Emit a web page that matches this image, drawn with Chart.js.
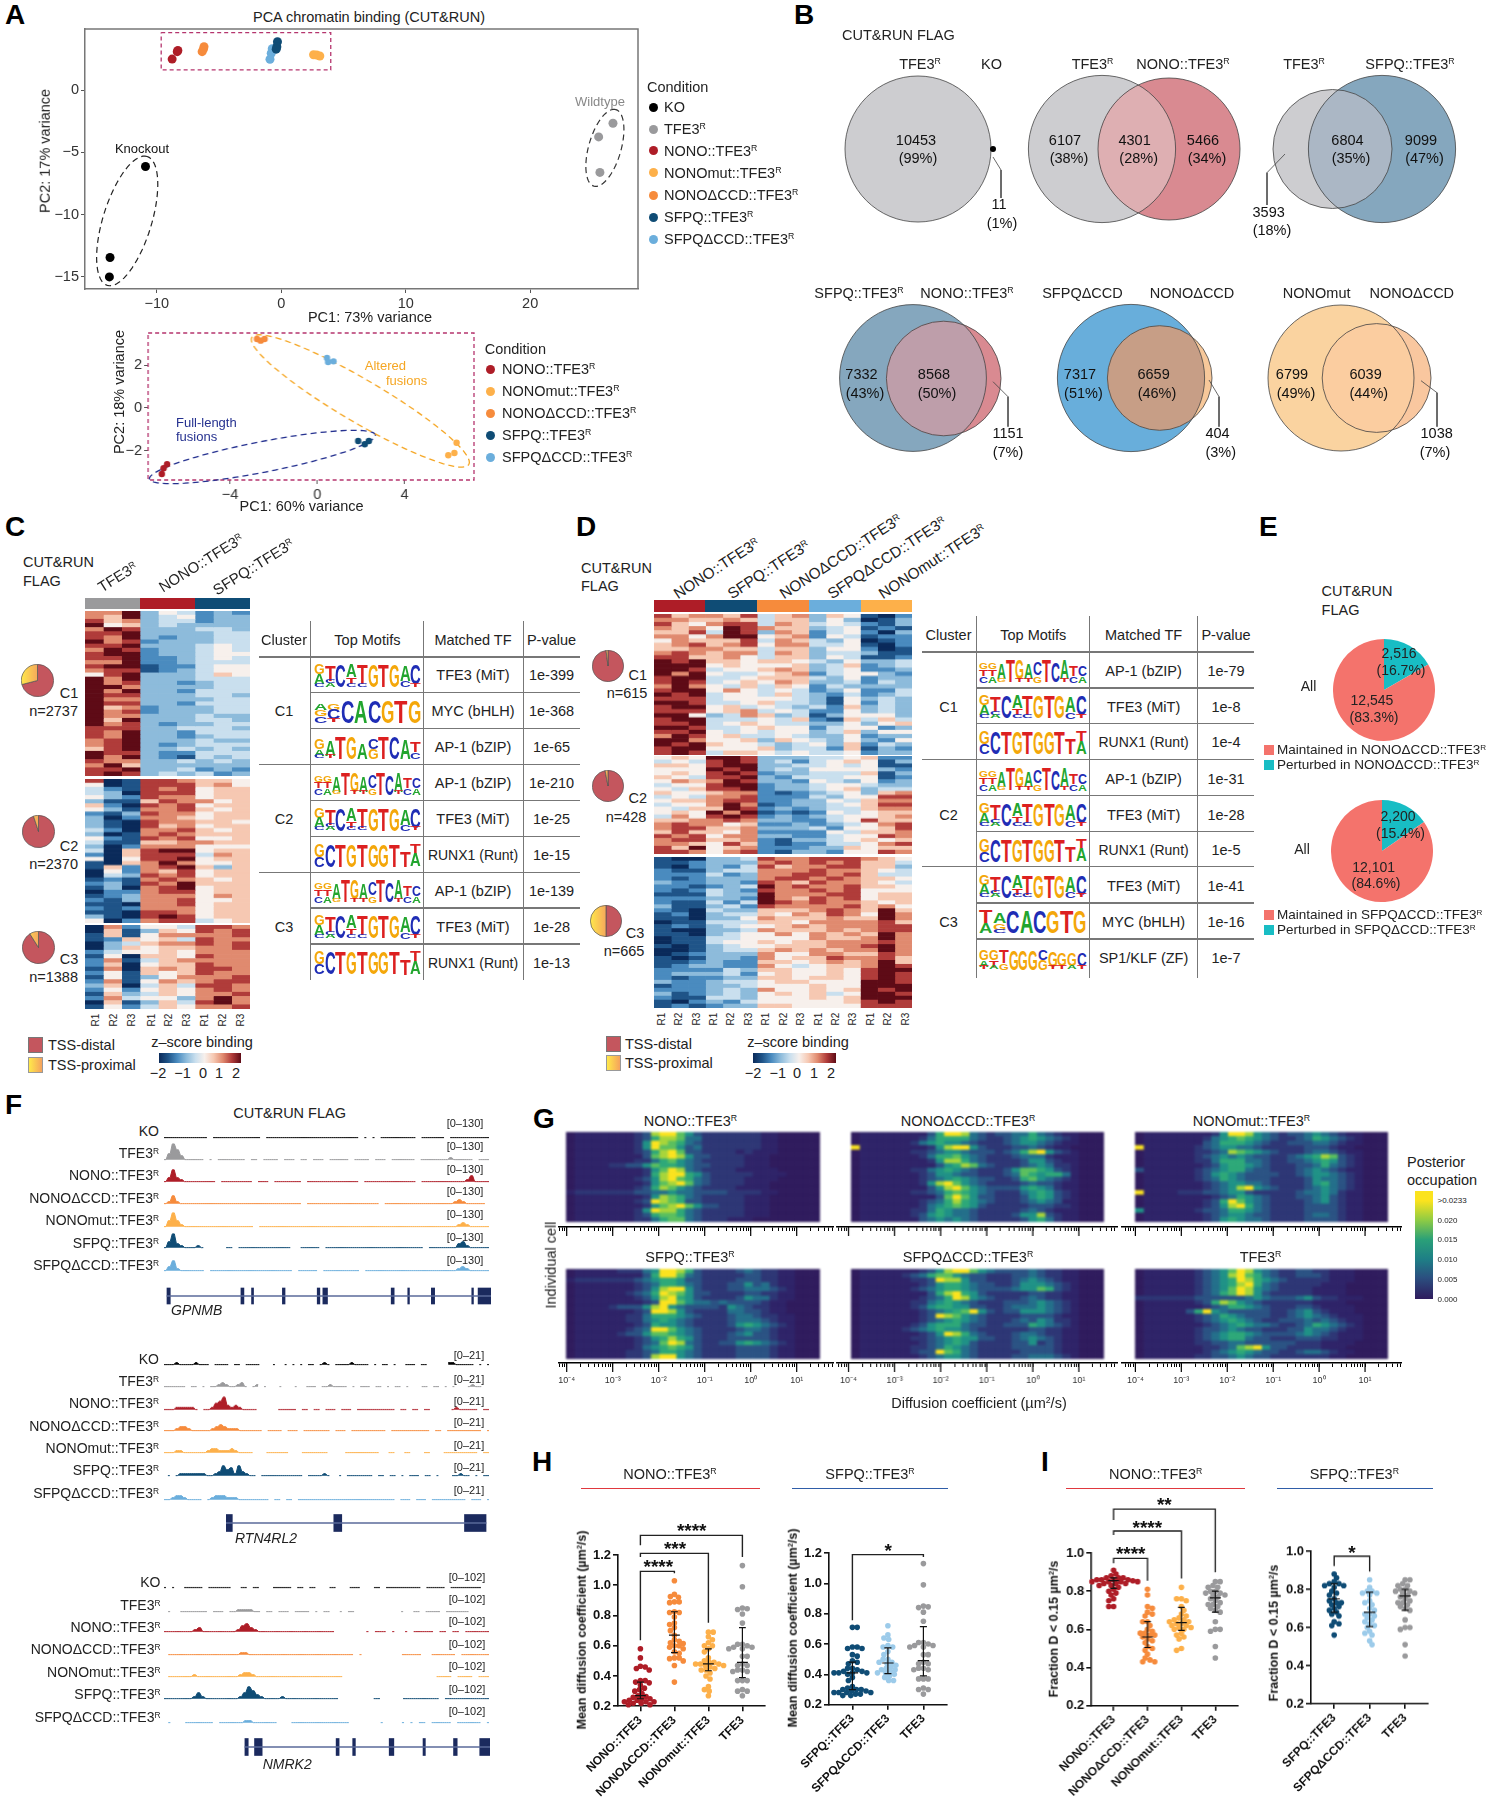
<!doctype html><html><head><meta charset="utf-8"><title>CUT&RUN figure</title>
<script src="https://cdn.jsdelivr.net/npm/chart.js@4"></script>
<style>
html,body{margin:0;background:#fff}
#f{position:relative;width:1490px;height:1800px;overflow:hidden;font-family:"Liberation Sans",Arial,sans-serif;color:#222}
#f canvas{position:absolute}
.t{position:absolute;white-space:nowrap;line-height:1}
sup{font-size:.6em;vertical-align:.5em;line-height:0}
</style></head><body><div id="f"></div>
<script>
/* ---------- DATA ---------- */
const conditions=['KO','TFE3R','NONO::TFE3R','NONOmut::TFE3R','NONOΔCCD::TFE3R','SFPQ::TFE3R','SFPQΔCCD::TFE3R'];
const pcaX={KO:[-10.9,-13.75,-13.8],TFE3:[26.65,25.5,25.6],NONO:[-8.35,-8.3,-8.76],MUT:[2.85,3.1,2.6],DCCD:[-6.35,-6.2,-6.25],SFPQ:[-0.3,-0.35,-0.4],SDCCD:[-0.72,-0.8,-0.9]};
const pcaY={KO:[-6.13,-13.44,-15],TFE3:[-2.65,-3.75,-6.6],NONO:[3.1,3.2,2.5],MUT:[2.83,2.75,2.85],DCCD:[3.1,3.5,3.3],SFPQ:[3.9,3.5,3.3],SDCCD:[3.34,2.97,2.49]};
const pca2X={NONO:[-6.89,-7.05,-7.13],DCCD:[-2.77,-2.6,-2.42],SDCCD:[.44,.49,.74],SFPQ:[1.87,2.17,2.36],MUT:[6.38,6.28,6]};
const pca2Y={NONO:[-2.64,-2.83,-3.1],DCCD:[3.24,3.16,3.24],SDCCD:[2.35,2.16,2.19],SFPQ:[-1.55,-1.7,-1.55],MUT:[-1.63,-2.11,-2.22]};
const pcaTicksX=[-10,0,10,20],pcaTicksY=[0,-5,-10,-15],pca2TicksX=[-4,0,4],pca2TicksY=[2,0,-2];
const vennValues=[['10453','(99%)'],['11','(1%)'],['6107','(38%)'],['4301','(28%)'],['5466','(34%)'],['6804','(35%)'],['9099','(47%)'],['3593','(18%)'],['7332','(43%)'],['8568','(50%)'],['1151','(7%)'],['7317','(51%)'],['6659','(46%)'],['404','(3%)'],['6799','(49%)'],['6039','(44%)'],['1038','(7%)']];
const heatC1=["779354232","769345233","867344233","956343333","798333443","889333344","879323344","978233344","889333454","798233454","899233455","889223454","779223444","899122455","788123455","589333465","979333444","978332344","997333344","979332444","988333443","977333344","988332444","967233344","978233344","977333433","969333443","978323344","888334443","879332444","879332344","789333433","789323444","689334343","988322444","979321434","877334343","796333333","889334232","898343423"];
const heatC2=["801887665","501888675","421878566","430888566","532877566","311687756","620878566","531778656","213877566","302776566","310877665","310867566","420778656","301787666","521878556","411667766","302777555","406899566","206888476","505889566","106797556","162789636","052768566","043878566","121787656","231879666","130789566","022788566","123777576","213778556","110778566","212777566","110887566","310898566","502788456"];
const heatC3=["072554887","061365878","161577778","126564877","034677878","036566778","245565777","150665877","271467777","260566877","170676887","251656877","151357778","271576788","360464887","252565787","163465778","274553797","061364897","152465778"];
const heatD1=["867768467365102","776676466353013","865788476454213","767598766345121","668498376245203","775799567254122","576668476435012","678678577445102","667766466355201","787677476344311","886675466354112","989665665435334","999565556346234","998455676345223","979544567245532","899445666435233","898456576334243","797546465243333","899575454235224","989455464324234","888455554315343","998445644315243","899564543426343","888567454225343","995347634135553","899444546216464","889456544335356","998445655245523","889545455346355","798564454335233","997556365435325","989655434536243","899555634426132","898466545445233"];
const heatD2=["565998333445622","454898342456513","665899334454511","555989343555532","565898233444613","654889324445512","576798332543523","455899233455433","546889233456344","655677212345367","454778222435588","566788223354677","455797123345688","546698232344677","565979121254566","475898232345567","667787332245866","787756223234578","788667333425568","686657222254667","878577332245587","788667213345656","776586212244578","869567222336566","887578213325587"];
const heatD3=["100334877888765","112333787878664","102324867788663","211344777877654","222423778878644","212333788787665","322332876877654","221234978778665","212432877878555","111433977788566","222332976878566","211424987877656","311342877778675","210433666787696","120344657687597","110335766676697","011444665777786","121345567677788","100334766676788","110345575767697","011445555766797","011455656677787","101345566677897","001344676767797","012333755776687","101332756687786","112322665676796","123322754566798","222243665565899","233342565565898","212233665665898","322344566555998","122334555655999","222343755656989","312343565645998","211443555656999","102324555556898","121233665555888"];
const motifs={TFE3:["G3A3C1","T5C1A1","C7","A4T2C1","T6C1","G7","T7","G7","A5C2","C6T1"],MYC:["A2G2C2","G2C3T1","C7","A7","C7","G7","T7","G7"],MYC2:["T4A3","A3G2C1","C7","A7","C7","G7","T7","G7"],AP1a:["G3A2C1","A5T1","T7","G7","A5","C3G3","T7","C7","A6","T3C2"],AP1b:["G2T2C2","G2T2A2","A5G1","T7","G6T1","A5T1","C4G2","T7","C6","A6T1","T3C2","C3A2"],RUNX:["G4C3","C7","T7","G7","T7","G7","G7","T7","T5","T3A4"],SP1:["G3A2T1","G3T2A1","T4G2","G6","G6","G6","C3G3","G5T1","G4T1","G4A1","C4T1"]};
const tableC=[['TFE3','TFE3 (MiT)','1e-399'],['MYC','MYC (bHLH)','1e-368'],['AP1a','AP-1 (bZIP)','1e-65'],['AP1b','AP-1 (bZIP)','1e-210'],['TFE3','TFE3 (MiT)','1e-25'],['RUNX','RUNX1 (Runt)','1e-15'],['AP1b','AP-1 (bZIP)','1e-139'],['TFE3','TFE3 (MiT)','1e-28'],['RUNX','RUNX1 (Runt)','1e-13']];
const tableD=[['AP1b','AP-1 (bZIP)','1e-79'],['TFE3','TFE3 (MiT)','1e-8'],['RUNX','RUNX1 (Runt)','1e-4'],['AP1b','AP-1 (bZIP)','1e-31'],['TFE3','TFE3 (MiT)','1e-28'],['RUNX','RUNX1 (Runt)','1e-5'],['TFE3','TFE3 (MiT)','1e-41'],['MYC2','MYC (bHLH)','1e-16'],['SP1','SP1/KLF (ZF)','1e-7']];
const pieC=[[71,29],[95,5],[91,9]],pieD=[[98,2],[97,3],[50,50]],pieE1=[2516,12545],pieE2=[2200,12101];
const trackNames=['KO','TFE3R','NONO::TFE3R','NONOΔCCD::TFE3R','NONOmut::TFE3R','SFPQ::TFE3R','SFPQΔCCD::TFE3R'];
const tracksGPNMB=["00000000000.000000000000.00000000000000000000000.0.0.000000000.000000.0000000000","0385200000.0.0000000.00.0000.000.00.000.00000.0000.000.000000.0000000100000.000","0262100000000.00000000.000.0000000.0000000000000.0000000000000.00000000000130000","0141000000000000000000000000000000.000000000000000000.0000000000000000012100000.","0373100000000000000000.00000000000000000000000000000000000000000000000012100000","0372100010.....00.0000000000000..00000.000000000000000000000000.000000023100000","0251000000.00000000000000000000.00000.000000000.000000000000000000000012100000"];
const tracksRTN=["000100001000.0000.00.0000...0..0.0.0.00.010.000010000.0.00.0..000.00.....1100000.0.0","000000.00.0.0012100120.01.0...0...0..000.0010000.0.000.00.0.00.0...00.00.0.0...0100..","000111110.00134621210000.....00000.00.00.000.000.0000000000.00.00.00.....0100000.00","0001221000001232111000000.0000.000.0000000.000.000000000.0000000000.00.000000000.0","00011000000122111210000...000000...0000000....000000000..00..00...00...000000000.00",".0.011111110012534152100.00000000000.000010..0.0000000.00.00.0.000.00.0...00100.0.00","0012210000.0122211100000000.00.00.0000000000000000000000000.000.000.000000000.000.0"];
const tracksNMRK=["0.0..00000.000000..00.00...00000.00.00...00...000...00.000000000.00000.00000000..",".0..0000000.000.00111100.00.000.0000.0.00..0.00...........0..00.0000.000000.....","0000000120000000013421000000000000000000.......0.000.0..0.00000.00.00.000000",".00000000000000000110000000000000000000000000.0.........00000..000000.0000000",".000000100000000001221000000000000000000000......................0000.0000.000","000000013100000000136421000010000000000000........00.....000000000.00000000000",".0...0000000.00000011000000...00000000000000.......0....0.0.00.00000.000000.0"];
const exonsGPNMB=[[503,513],[726,735],[758,764],[851,859],[956,964],[973,987],[1179,1188],[1229,1234],[1300,1310],[1422,1427],[1441,1479]];
const exonsRTN=[[682,700],[1006,1030],[1400,1465]];
const exonsNMRK=[[738,748],[767,790],[1013,1022],[1063,1071],[1173,1187],[1275,1282],[1367,1378],[1446,1476]];
const dwellNONO=["011111112389975322222221100000","011111112368874422222221100000","011111112598764322222221100000","011111112597753422222221100000","011111112368973322221211100000","011111111378985332222111000000","011111112246754322222111000000","011112233576654332222111000000","011111111257984322221111100000","011111111268996532222211110000","011111112358976432222111100000","011111111257897432222111000000","011111112368754322221111000000","122222223344544333322221100000","011111111258764322222111000000","011111112398763322222111000000","011111111257897533222111000000","011111112598864322222111000000","011111112367764322222111000000","011111112246774322211100000000"];
const dwellDCCD=["011111111369984323344643211000","011111112466664322345654321000","011111124565543222345543211000","911111111258995322233432110000","011111122345543332346895321000","011111112466754322234442111000","011111111258864322223553211000","011111111135687432223454221000","011111122456543222357765321000","011111112355433222347656641000","011111112345654332236754321000","011111112589754322223433211000","011111111358975433335654211000","011111122346765432224565321000","011111111137975332223565321000","011111112346865432223454311000","011111112456765322222333221000","011111122465443222223432111000","011111123565443222235583211000","011111113454543222223564211000"];
const dwellMUT=["011111111259985432334543211000","011111112456765432234654321000","011111113466654322333443211000","911111123455443222223332110000","011111122348765432223443211000","011111123454543322345687321000","011111122466644322334565321000","011111112356654322233464321000","311111123456643322234543211000","011111123565433332234554321000","011111123465433322223544321000","011111112345544322223564321000","011111112345895432223454321000","911112223345532222234454211000","011111111234654322233453211000","011111112369754322223453211000","011111112358964322223333211000","511111123346654322223333211000","011111112345543322223443211000","011111112356544322223333211000"];
const dwellSFPQ=["011111222459986322223432211000","011111111369974322222332211000","122222223456653322223332211000","011111112346654322233534211000","011111112358995322233444321000","011111123469875332222332211000","011111112358965322223544211000","011111111239975443433332110000","011112333589543333254322110000","011111112399853222244332110000","011111122466654322234432211000","011111122456543222234443211000","011111112365543222235654321000","011111123499754322223443211000","011111233577654322234533211000","011111112356865322233333211000","011111112347984322335654321000","011111112456765322223333211000","011111122346654322223333211000","011111122389954322223333211000"];
const dwellSDCCD=["011111112358997543333432211000","011111234677543322233432211000","011111122398853322234543211000","011111112356654332235554321000","011111123456654333345576321000","011111111368965322222332211000","011111112346985432223432211000","011111122456543222333454321000","011111123566553322344454321000","011111112345679532335554321000","011111112398754322223333211000","011111112345654322234354221000","011111123566643322333654321000","011111234565543222222332211000","011111112359864322234432211000","011111122345655332234543211000","011111112345653222233523211000","011111122346543222233333211000","011111123397643222223333211000","011111112345543222233444321000"];
const dwellTFE3=["011111123457985432233221110000","011111123458976432233321110000","011111123456986543222221110000","011111123456896432222211100000","011111123457985432222111100000","011111123467985322222111100000","222222233333345433345322111000","011111123687543222222111100000","011111112346654322233211110000","011111369543333322345321110000","011111123465433322345432111000","011111123456543223334343211000","011111112345654432234654321000","011111123345433222335443211000","011111123456654333345432111000","011111123456643322233322111000","011111122334433333322211110000","011111112234789533222211100000","011111112345654332234432110000","011111122334543322222221100000"];
const namesN=['NONO::TFE3','NONOΔCCD::TFE3','NONOmut::TFE3','TFE3'],namesS=['SFPQ::TFE3','SFPQΔCCD::TFE3','TFE3'];
const hNONO=[.58,.52,.465,.46,.45,.44,.37,.37,.36,.355,.34,.32,.31,.3,.285,.27,.265,.26,.25,.25,.24,.24,.23,.23,.23,.22,.22,.21,.21];
const hDCCD=[1.03,.94,.925,.92,.89,.89,.885,.825,.82,.82,.79,.75,.74,.72,.7,.67,.64,.63,.62,.615,.6,.6,.59,.58,.56,.55,.52,.52,.515,.5,.47,.36];
const hMUT=[.69,.69,.66,.64,.62,.6,.6,.58,.56,.52,.5,.49,.49,.48,.48,.48,.47,.47,.46,.45,.44,.44,.42,.4,.38,.33,.31,.3,.27];
const hTFE3=[1.13,.99,.85,.845,.84,.81,.75,.61,.61,.6,.59,.59,.58,.58,.53,.53,.48,.47,.47,.44,.44,.43,.43,.37,.37,.37,.31,.3,.3,.27];
const hSFPQ=[.71,.71,.58,.58,.57,.57,.53,.52,.49,.48,.47,.44,.44,.43,.42,.42,.41,.41,.41,.41,.4,.38,.36,.32,.31,.3,.3,.3,.29,.29,.28,.28,.28,.28,.27,.27,.26,.26];
const hSDCCD=[.72,.66,.64,.63,.59,.58,.58,.55,.53,.5,.5,.48,.48,.47,.46,.45,.44,.43,.43,.42,.41,.41,.4,.39,.38,.36,.36];
const iNONO=[.91,.89,.88,.87,.87,.87,.86,.86,.86,.86,.855,.85,.85,.85,.85,.84,.84,.84,.83,.83,.82,.81,.8,.79,.78,.76,.75,.72,.72];
const iDCCD=[.81,.78,.72,.71,.69,.68,.67,.64,.64,.62,.6,.59,.58,.58,.57,.57,.56,.55,.54,.53,.51,.5,.49,.47,.45,.44,.43,.43];
const iMUT=[.82,.76,.76,.75,.72,.7,.68,.67,.66,.65,.65,.64,.64,.63,.63,.62,.62,.61,.61,.6,.6,.58,.57,.56,.55,.5,.49];
const iTFE3=[.85,.85,.83,.82,.82,.8,.8,.79,.79,.78,.78,.77,.76,.75,.74,.73,.73,.72,.71,.7,.69,.64,.6,.6,.59,.51,.45];
const iSFPQ=[.88,.86,.84,.83,.83,.82,.82,.81,.79,.78,.77,.75,.74,.73,.73,.72,.71,.7,.69,.68,.67,.66,.63,.62,.61,.56];
const iSDCCD=[.85,.81,.79,.79,.78,.78,.77,.74,.73,.72,.7,.69,.67,.67,.66,.65,.64,.63,.62,.61,.6,.58,.57,.56,.53,.51];
const hErr={NL:[[.27,.36,.25],[.67,.825,.555],[.48,.58,.435],[.49,.72,.39]],SL:[[.41,.48,.3],[.475,.575,.405],[.49,.715,.39]]};
const iErr={NL:[[.855,.87,.815],[.56,.64,.505],[.635,.715,.595],[.765,.8,.69]],SL:[[.75,.83,.68],[.68,.785,.605],[.765,.8,.69]]};
const hBrk=[[[0,.637],[0,1.092],[1,1.092],[1,1.08]],[[0,1.187],[0,1.211],[2,1.211],[2,.752]],[[0,1.264],[0,1.33],[3,1.33],[3,1.187]]];
const hBrkS=[[[0,.757],[0,1.189],[2,1.189],[2,1.174]]];
const iBrk=[[[0,.946],[0,.972],[1,.972],[1,.855]],[[0,1.094],[0,1.115],[2,1.115],[2,.867]],[[0,1.173],[0,1.23],[3,1.23],[3,.899]]];
const iBrkS=[[[0,.923],[0,.974],[1,.974],[1,.893]]];

/* ---------- STYLE ---------- */
const K={KO:'#000',TFE3:'#9A9A9C',NONO:'#AE1D27',MUT:'#FDB04A',DCCD:'#F68B3C',SFPQ:'#0F4C75',SDCCD:'#6BAEDC'};
const heatPal=['#0A2A5A','#1F5488','#4A8BBF','#8DBBDB','#C9DFEE','#F7F0EC','#F6C8B2','#E08A6F','#B03C3A','#5E0B16'];
const virPal=['#2F1B5D','#2E2368','#2D3675','#2A5283','#236F8A','#1F9186','#2DA878','#5ABF5E','#A8D53A','#FBE31E'];
const root=document.getElementById('f');
Chart.defaults.font.family='"Liberation Sans",Arial,sans-serif';
Chart.defaults.plugins.legend.display=false;Chart.defaults.plugins.tooltip.enabled=false;
Chart.defaults.animation=false;Chart.defaults.events=[];

/* ---------- HELPERS ---------- */
const fmt=s=>s.replace(/R$/,'<sup>R</sup>');
function t(x,y,s,o={}){const e=document.createElement('div');e.className='t';e.innerHTML=s;const a=o.a||'c';
 e.style.left=x+'px';e.style.top=y+'px';e.style.fontSize=(o.s||14.5)+'px';if(o.w)e.style.fontWeight=o.w;if(o.c)e.style.color=o.c;if(o.i)e.style.fontStyle='italic';
 e.style.transformOrigin=a==='l'?'0 50%':a==='r'?'100% 50%':'50% 50%';
 e.style.transform=`translate(${a==='c'?'-50%':a==='r'?'-100%':'0'},-50%)`+(o.r?` rotate(${o.r}deg)`:'');root.appendChild(e);}
function box(x0,y0,x1,y1,bg,bd){const e=document.createElement('div');e.style.cssText=`position:absolute;left:${x0}px;top:${y0}px;width:${x1-x0}px;height:${y1-y0}px;background:${bg};`+(bd?`box-sizing:border-box;border:${bd}`:'');root.appendChild(e);return e;}
function dot(x,y,r,c){const e=box(x-r,y-r,x+r,y+r,c);e.style.borderRadius='50%';}
function mk(x0,y0,x1,y1,cfg,g={}){const l=g.l||0,r=g.r||0,tp=g.t||0,b=g.b||0;const c=document.createElement('canvas');
 const W=x1-x0+l+r,H=y1-y0+tp+b;c.style.left=(x0-l)+'px';c.style.top=(y0-tp)+'px';c.style.width=W+'px';c.style.height=H+'px';c.width=W;c.height=H;if(g.blur)c.style.filter=`blur(${g.blur}px)`;root.appendChild(c);
 const o=cfg.options=cfg.options||{};o.responsive=false;o.maintainAspectRatio=false;const sc=o.scales||{};
 const xv=sc.x&&sc.x.display!==false,yv=sc.y&&sc.y.display!==false;
 o.layout={autoPadding:false,padding:{left:yv?0:l,top:tp,right:r,bottom:xv?0:b}};
 if(xv)sc.x.afterFit=s=>{s.height=b};if(yv)sc.y.afterFit=s=>{s.width=l};
 return new Chart(c,cfg);}
const pts=(xs,ys)=>xs.map((x,i)=>({x,y:ys[i]}));
const path=a=>a.map(p=>({x:p[0],y:p[1]}));
const ell=(cx,cy,a,b,deg)=>{const r=deg*Math.PI/180,o=[];for(let i=0;i<=72;i++){const u=i/72*2*Math.PI,px=a*Math.cos(u),py=b*Math.sin(u);o.push({x:cx+px*Math.cos(r)-py*Math.sin(r),y:cy+px*Math.sin(r)+py*Math.cos(r)});}return o;};
const dashLine=(d,c,w,dash)=>({data:d,showLine:true,pointRadius:0,borderColor:c,borderWidth:w,borderDash:dash||[],clip:false,fill:false});
const fixed=a=>s=>{s.ticks=a.map(v=>({value:v}))};
const minus=v=>String(v).replace('-','−');
function heat(x0,y0,x1,y1,rows,pal,g){const n=rows[0].length,ds=[];for(let j=0;j<n;j++)ds.push({data:rows.map(()=>1),backgroundColor:rows.map(r=>pal[+(r[j]||0)]),barPercentage:1,categoryPercentage:1,borderWidth:0});
 mk(x0,y0,x1,y1,{type:'bar',data:{labels:rows.map((_,i)=>i),datasets:ds},options:{indexAxis:'y',scales:{x:{display:false,stacked:true,min:0,max:n},y:{display:false,stacked:true}}}},g);}
const yellowGrad=c=>{const ch=c.chart,g=ch.ctx.createLinearGradient(0,0,ch.width*.55,0);g.addColorStop(0,'#FFE94A');g.addColorStop(1,'#F5A25D');return g;};
function pie(cx,cy,r,vals){mk(cx-r,cy-r,cx+r,cy+r,{type:'pie',data:{datasets:[{data:vals,backgroundColor:c=>c.dataIndex===0?'#C4565E':yellowGrad(c),borderColor:'#555',borderWidth:.7}]},options:{}});}
const LC={A:'#22A52E',C:'#1F2DB5',G:'#F4A70A',T:'#DC2020'},LW={A:.722,C:.722,G:.778,T:.611};
function logo(x,yc,w,h,spec){const cw=w/spec.length;spec.forEach((c,i)=>{const m=[...c.matchAll(/([ACGT])(\d)/g)],tot=m.reduce((s,q)=>s+ +q[2],0);let y=yc+h/2-tot/7*h;
 m.forEach(q=>{const lh=+q[2]/7*h,e=document.createElement('div');e.className='t';e.textContent=q[1];e.style.cssText+=`left:${x+i*cw}px;top:${y}px;font:bold 20px/20px "Liberation Sans";color:${LC[q[1]]};transform-origin:0 0;transform:scale(${cw/(LW[q[1]]*20)},${lh/14.3}) translateY(-2.6px)`;root.appendChild(e);y+=lh;});});}
function hl(x0,x1,y,w,c){box(x0,y-w/2,x1,y+w/2,c||'#777');}
function vl(x,y0,y1){box(x-.5,y0,x+.5,y1,'#777');}

/* ---------- PANEL LETTERS ---------- */
[['A',5,15],['B',794,15],['C',5,527],['D',576,527],['E',1259,527],['F',5,1105],['G',533,1119],['H',532,1462],['I',1041,1462]].forEach(p=>t(p[1],p[2],p[0],{a:'l',s:28,w:'bold',c:'#000'}));

/* ---------- A ---------- */
t(369,16.7,'PCA chromatin binding (CUT&amp;RUN)');
const aGroups=['KO','TFE3','NONO','DCCD','MUT','SFPQ','SDCCD'];
let ds=aGroups.map(k=>({data:pts(pcaX[k],pcaY[k]),backgroundColor:K[k],pointRadius:4.5,borderWidth:0,pointBorderWidth:0}));
ds.push(dashLine(ell(-12.37,-10.5,5.42,1.95,72.8),'#222',1.2,[6,4]));
ds.push(dashLine(ell(26,-4.63,3.2,1.3,74),'#333',1.2,[6,4]));
ds.push(dashLine(path([[-9.64,4.63],[3.98,4.63],[3.98,1.63],[-9.64,1.63],[-9.64,4.63]]),'#B5356E',1.3,[4,3]));
ds.push(dashLine(path([[-15.76,4.92],[28.66,4.92],[28.66,-15.97]]),'#777',1.5));
const ax=(min,max,ticks,cb,o={})=>Object.assign({type:'linear',min,max,afterBuildTicks:fixed(ticks),border:{display:o.b!==false,color:'#777',width:1.5},grid:{drawOnChartArea:false,tickLength:o.tl||4,color:'#555'},ticks:{callback:cb||minus,color:'#333',font:{size:14.5},padding:o.p||2,maxRotation:0,autoSkip:false}},{});
mk(85,29,638,289,{type:'scatter',data:{datasets:ds},options:{scales:{x:ax(-15.76,28.66,pcaTicksX),y:ax(-15.97,4.92,pcaTicksY)}}},{l:40,r:4,t:14,b:20});
t(370,316.7,'PC1: 73% variance');t(45,150.7,'PC2: 17% variance',{r:-90});
t(142,148,'Knockout',{s:13,c:'#111'});t(600,101,'Wildtype',{s:13,c:'#888'});
t(647,86.7,'Condition',{a:'l'});
[['KO','KO',107],['TFE3','TFE3R',129],['NONO','NONO::TFE3R',150.7],['MUT','NONOmut::TFE3R',172.7],['DCCD','NONOΔCCD::TFE3R',195],['SFPQ','SFPQ::TFE3R',217],['SDCCD','SFPQΔCCD::TFE3R',239]].forEach(e=>{dot(653,e[2],4.5,K[e[0]]);t(664,e[2],fmt(e[1]),{a:'l'});});
// A lower
const a2=['NONO','DCCD','SDCCD','SFPQ','MUT'];
ds=a2.map(k=>({data:pts(pca2X[k],pca2Y[k]),backgroundColor:K[k],pointRadius:3.2,pointBorderWidth:0}));
ds.push(dashLine(ell(1.97,.33,5.8,1,-31),'#F5A623',1.3,[6,4]));
ds.push(dashLine(ell(-2.52,-2.3,5.28,.72,11.3),'#24308F',1.3,[6,4]));
ds.push(dashLine(path([[-7.76,3.52],[7.18,3.52],[7.18,-3.38],[-7.76,-3.38],[-7.76,3.52]]),'#B5356E',1.3,[4,3]));
const a2x=ax(-7.76,7.18,pca2TicksX),a2y=ax(-3.38,3.52,pca2TicksY);a2x.border.display=false;a2y.border.display=false;
mk(148,333,473.5,480,{type:'scatter',data:{datasets:ds},options:{scales:{x:a2x,y:a2y}}},{l:30,r:6,t:14,b:20});
t(301.6,505.7,'PC1: 60% variance');t(119,391.7,'PC2: 18% variance',{r:-90});
t(176,421.7,'Full-length',{a:'l',s:13,c:'#24308F'});t(176,436.3,'fusions',{a:'l',s:13,c:'#24308F'});
t(364.8,365.3,'Altered',{a:'l',s:13,c:'#F5A623'});t(386,380.3,'fusions',{a:'l',s:13,c:'#F5A623'});
t(484.7,349.3,'Condition',{a:'l'});
[['NONO','NONO::TFE3R',369],['MUT','NONOmut::TFE3R',391],['DCCD','NONOΔCCD::TFE3R',413],['SFPQ','SFPQ::TFE3R',435],['SDCCD','SFPQΔCCD::TFE3R',457]].forEach(e=>{dot(490.8,e[2],4.5,K[e[0]]);t(502,e[2],fmt(e[1]),{a:'l'});});

/* ---------- B ---------- */
const G1='#CDCDD0',BL='#85A7BE',RD='#D98A91',SK='#68AEDB';
const venn=[{a:[918,149,73,G1]},{a:[1102,149,73.6,G1],b:[1169,149,71,RD],o:'#DEAFB2'},{a:[1332.5,149,59.5,G1],b:[1382,149,73.6,BL],o:'#ABB7C5'},{a:[913,378,73.4,BL],b:[943.7,378.5,57.3,RD],o:'#BE9EAA'},{a:[1131,378,73.6,SK],b:[1159.7,378,52.3,'#F7C89A'],o:'#C79E86'},{a:[1341,378,73,'#FAD3A0'],b:[1376.6,378,54.4,'#F9C79F'],o:'#FBCDA0'}];
const bb=(c,fill,extra={})=>Object.assign({data:[{x:c[0],y:c[1],r:c[2]}],backgroundColor:fill,borderColor:'#444',borderWidth:0},extra);
let vd=[];venn.forEach(v=>{vd.push(bb(v.a,v.a[3]));if(v.b){vd.push(bb(v.b,v.b[3]));vd.push(bb(v.b,v.o,{clipTo:v.a}));vd.push(bb(v.b,'rgba(0,0,0,0)',{borderWidth:.8}));}vd.push(bb(v.a,'rgba(0,0,0,0)',{borderWidth:.8}));});
vd.push(bb([993,149,3],'#000'));
[[[993,157],[1001,170],[1001,198]],[[1285,154],[1267,172.7],[1267,205]],[[993,381.7],[1008,396.7],[1008,426.7]],[[1209,380],[1219,396.7],[1219,426.7]],[[1421,380.7],[1437,392.7],[1437,426.7]]].forEach(p=>vd.push({type:'line',data:path(p),borderColor:'#444',borderWidth:.8,pointRadius:0,fill:false}));
vd.reverse();
const vennClip={id:'vennClip',beforeDatasetDraw(ch,a){const d=ch.data.datasets[a.index];if(d.clipTo){const c=ch.ctx;c.save();c.beginPath();c.arc(ch.scales.x.getPixelForValue(d.clipTo[0]),ch.scales.y.getPixelForValue(d.clipTo[1]),d.clipTo[2],0,7);c.clip();}},afterDatasetDraw(ch,a){if(ch.data.datasets[a.index].clipTo)ch.ctx.restore();}};
mk(780,40,1490,470,{type:'bubble',data:{datasets:vd},plugins:[vennClip],options:{scales:{x:{display:false,type:'linear',min:780,max:1490},y:{display:false,type:'linear',min:40,max:470,reverse:true}}}});
t(842,35,'CUT&amp;RUN FLAG',{a:'l'});
[[920,64,'TFE3R'],[991.5,64,'KO'],[1092.5,64,'TFE3R'],[1183,64,'NONO::TFE3R'],[1304,64,'TFE3R'],[1410,64,'SFPQ::TFE3R'],[859,293,'SFPQ::TFE3R'],[967,293,'NONO::TFE3R'],[1082.5,293,'SFPQΔCCD'],[1192,293,'NONOΔCCD'],[1316.7,293,'NONOmut'],[1411.8,293,'NONOΔCCD']].forEach(h=>t(h[0],h[1],fmt(h[2])));
const vennPos=[[916,140,918,158],[999,204,1002,223],[1065,140,1069,158],[1134.6,140,1138.7,158],[1203,140,1207,158],[1347.5,140,1351,158],[1421,140,1424.5,158],[1268.7,211.7,1272,230],[861.5,374,865,392.7],[934,374,937,392.7],[1008,433,1008,452],[1080,374,1083.4,392.7],[1153.6,374,1157,392.7],[1217.5,433,1220.7,452],[1292,374,1296,392.7],[1365.6,374,1368.8,392.7],[1436.7,433,1435,452]];
vennValues.forEach((v,i)=>{const p=vennPos[i];t(p[0],p[1],v[0],{c:'#111'});t(p[2],p[3],v[1],{c:'#111'});});

/* ---------- C ---------- */
function table(cfg){const{xs,hy,lines,full,x0,x1,y0,y1,rowY,tab,clY}=cfg;xs.forEach(x=>vl(x,y0,y1));lines.forEach((y,i)=>hl(full.includes(i)?x0:xs[0],x1,y,1.2));
 ['Cluster','Top Motifs','Matched TF','P-value'].forEach((s,i)=>t(hy[i],hy[4],s));['C1','C2','C3'].forEach((s,i)=>t(hy[0],clY[i],s));
 tab.forEach((r,i)=>{logo(cfg.lx,rowY[i],cfg.lw,23,motifs[r[0]]);t(hy[2],rowY[i],r[1],{s:r[1].startsWith('RUNX')?14:14.5});t(hy[3],rowY[i],r[2]);});}
box(85,597.6,140,609,K.TFE3);box(140,597.6,195,609,K.NONO);box(195,597.6,250,609,K.SFPQ);
heat(85,611,250,776.3,heatC1,heatPal);heat(85,779.4,250,923,heatC2,heatPal);heat(85,925,250,1009,heatC3,heatPal);
t(23,562.4,'CUT&amp;RUN',{a:'l'});t(23,580.5,'FLAG',{a:'l'});
[[98.7,588,'TFE3R'],[160,588,'NONO::TFE3R'],[213.5,591,'SFPQ::TFE3R']].forEach(a=>t(a[0],a[1],fmt(a[2]),{a:'l',r:-32,s:15}));
['R1','R2','R3','R1','R2','R3','R1','R2','R3'].forEach((s,i)=>t([96,114,132,151.5,169,187,204.7,222.7,241][i],1019.7,s,{s:10,r:-90}));
[[37.5,680],[38,831.4],[38,947]].forEach((p,i)=>pie(p[0],p[1],16.5,pieC[i]));
[[69,693,'C1'],[53.6,711,'n=2737'],[69,845.6,'C2'],[53.6,863.6,'n=2370'],[69,958.9,'C3'],[53.6,977,'n=1388']].forEach(a=>t(a[0],a[1],a[2]));
table({xs:[310.8,423,523.5],hy:[284,367.4,473,551.5,639.7],lines:[657,692.9,728.9,764.5,800.4,836.4,872.4,908,944],full:[0,3,6],x0:258.7,x1:580,y0:620.5,y1:979.5,rowY:[675.3,711,747,783,819,855,890.7,926.7,962.7],tab:tableC,clY:[711,819,926.7],lx:314,lw:107});
function lg(x,y1,y2,tx){box(x,y1,x+15,y1+15.5,'#C4565E','1px solid #777');box(x,y2,x+15,y2+15.5,'linear-gradient(90deg,#FFE94A,#F5A25D)','1px solid #999');t(tx,y1+8,'TSS-distal',{a:'l'});t(tx,y2+8,'TSS-proximal',{a:'l'});}
lg(28,1037,1057,48);
const heatGrad='linear-gradient(90deg,'+heatPal.join(',')+')';
t(202,1041.5,'z–score binding');box(159,1053,241,1063,heatGrad);
[[158,'−2'],[182.5,'−1'],[203,'0'],[219,'1'],[236,'2']].forEach(a=>t(a[0],1073,a[1]));

/* ---------- D ---------- */
[K.NONO,K.SFPQ,K.DCCD,K.SDCCD,K.MUT].forEach((c,i)=>box(653.7+i*51.72,600,653.7+(i+1)*51.72,611.7,c));
heat(653.7,614,912.3,754.5,heatD1,heatPal);heat(653.7,756.4,912.3,854,heatD2,heatPal);heat(653.7,856.7,912.3,1008,heatD3,heatPal);
t(581,568,'CUT&amp;RUN',{a:'l'});t(581,586,'FLAG',{a:'l'});
[[674.5,'NONO::TFE3R'],[729,'SFPQ::TFE3R'],[780.6,'NONOΔCCD::TFE3R'],[828.7,'SFPQΔCCD::TFE3R'],[880,'NONOmut::TFE3R']].forEach(a=>t(a[0],595,fmt(a[1]),{a:'l',r:-33,s:15.3}));
[662,679,697,714,731.4,749,766.4,783.6,801.4,818.6,835.8,853,870.8,888,905.8].forEach((x,i)=>t(x,1019,'R'+(i%3+1),{s:10,r:-90}));
[[608,665.7],[608,786],[606,921]].forEach((p,i)=>pie(p[0],p[1],16,pieD[i]));
[[637.7,675,'C1'],[627,693,'n=615'],[637.7,798,'C2'],[626,816.5,'n=428'],[635,933,'C3'],[624,951,'n=665']].forEach(a=>t(a[0],a[1],a[2]));
table({xs:[976.4,1089.7,1197.6],hy:[948.5,1033.3,1143.6,1226,634.7],lines:[652,688,723.9,759.9,795.4,831.4,866.6,903,939],full:[0,3,6],x0:921.8,x1:1254,y0:616,y1:977.6,rowY:[670.7,706.7,742.2,778.6,814.6,850,886,921.7,958],tab:tableD,clY:[706.7,814.6,921.7],lx:979.3,lw:107.4});
lg(605.7,1036,1055,625);
t(798,1041.5,'z–score binding');box(753,1053,836.4,1063,heatGrad);
[[753,'−2'],[777.7,'−1'],[797,'0'],[814,'1'],[831,'2']].forEach(a=>t(a[0],1073,a[1]));

/* ---------- E ---------- */
t(1321.6,591,'CUT&amp;RUN',{a:'l'});t(1321.6,610,'FLAG',{a:'l'});
const PE=['#18BDC4','#F4736C'];
mk(1333,639,1435,741,{type:'pie',data:{labels:['Perturbed','Maintained'],datasets:[{data:pieE1,backgroundColor:PE,borderWidth:0}]}});
mk(1330.5,800,1432.5,902,{type:'pie',data:{labels:['Perturbed','Maintained'],datasets:[{data:pieE2,backgroundColor:PE,borderWidth:0}]}});
[[1399,653,'2,516'],[1401,669.5,'(16.7%)'],[1372,700,'12,545'],[1374,716.6,'(83.3%)'],[1308.5,686.4,'All'],[1398,816,'2,200'],[1400.5,832.6,'(15.4%)'],[1373.7,866.6,'12,101'],[1376,882.7,'(84.6%)'],[1302,849,'All']].forEach(a=>t(a[0],a[1],a[2],{s:14}));
[[750,'Maintained in NONOΔCCD::TFE3R',PE[1]],[765,'Perturbed in NONOΔCCD::TFE3R',PE[0]],[915.2,'Maintained in SFPQΔCCD::TFE3R',PE[1]],[930,'Perturbed in SFPQΔCCD::TFE3R',PE[0]]].forEach(a=>{box(1264,a[0]-5,1273.5,a[0]+5,a[2]);t(1277,a[0],fmt(a[1]),{a:'l',s:13.5});});

/* ---------- F ---------- */
t(289.6,1112.6,'CUT&amp;RUN FLAG');
const trackCol=[K.KO,K.TFE3,K.NONO,K.DCCD,K.MUT,K.SFPQ,K.SDCCD];
function locus(tr,lab,base,rng,rngTxt,lx,rx,exons,gy,eh,gname,gx,gny){tr.forEach((s,i)=>{
  const vals=[...s].flatMap(c=>{const v=c==='.'?null:+c;return [v,v];});
  mk(164,base[i]-20,489,base[i]+1.4,{type:'line',data:{labels:vals.map((_,k)=>k),datasets:[{data:vals,borderColor:trackCol[i],backgroundColor:trackCol[i],borderWidth:1,pointRadius:0,fill:'origin',clip:false}]},options:{scales:{x:{display:false,offset:false},y:{display:false,min:-.7,max:10}}}});
  t(lx,lab[i],fmt(trackNames[i]),{a:'r',s:14});t(rx,rng[i],rngTxt,{s:11});});
 const d=[{data:[[exons[0][0],exons[exons.length-1][1]]],backgroundColor:'#5A6A9A',barThickness:1,grouped:false}];exons.forEach(e=>d.push({data:[e],backgroundColor:'#1B2A5E',barThickness:eh,grouped:false}));
 mk(160,gy-10,495,gy+10,{type:'bar',data:{labels:['gene'],datasets:d},options:{indexAxis:'y',scales:{x:{display:false,type:'linear',min:482,max:1492},y:{display:false}}}});
 t(gx,gny,gname,{a:'l',i:true,s:14});}
locus(tracksGPNMB,[1130.8,1153.4,1175,1197.8,1220.4,1242.6,1265.3],[1137.6,1160,1182,1204,1226.8,1248,1271],[1122.6,1146,1168.8,1191.4,1214,1237,1260],'[0–130]',159,465,exonsGPNMB,1296,16,'GPNMB',171,1310);
locus(tracksRTN,[1358.6,1380.8,1403.4,1425.6,1448,1470.4,1493],[1365,1386.6,1409.3,1431,1453,1476,1500],[1355.4,1378.5,1400.7,1422.4,1444.6,1466.8,1489.5],'[0–21]',159,469,exonsRTN,1523.4,17,'RTN4RL2',235,1538.4);
locus(tracksNMRK,[1582.3,1604.5,1626.7,1649.3,1671.5,1694,1716.8],[1587.3,1611.7,1632,1655,1677,1699,1723],[1577,1599,1621,1644,1666,1689,1711],'[0–102]',160.5,467,exonsNMRK,1746.7,17,'NMRK2',262.7,1764);

/* ---------- G ---------- */
const gPanels=[[566,819.6,1132,1222,dwellNONO],[851,1103.8,1132,1222,dwellDCCD],[1135,1388,1132,1222,dwellMUT],[566,819.6,1268.7,1359,dwellSFPQ],[851,1103.8,1268.7,1359,dwellSDCCD],[1135,1388,1268.7,1359,dwellTFE3]];
gPanels.forEach(p=>heat(p[0],p[2],p[1],p[3],p[4],virPal,{blur:1}));
[[690.4,1121,'NONO::TFE3R'],[968,1121,'NONOΔCCD::TFE3R'],[1251.4,1121,'NONOmut::TFE3R'],[690,1256.7,'SFPQ::TFE3R'],[968,1256.7,'SFPQΔCCD::TFE3R'],[1260.5,1256.7,'TFE3R']].forEach(a=>t(a[0],a[1],fmt(a[2])));
const SUP={'-4':'⁻⁴','-3':'⁻³','-2':'⁻²','-1':'⁻¹','0':'⁰','1':'¹'},decades=[-4,-3,-2,-1,0,1];
function gAxis(x0,x1,xd,y,lab){const lo=-4+(x0-xd)/46,hi=-4+(x1-xd)/46,mn=10**lo,mx=10**hi,tk=[];for(let d=-5;d<=1;d++)for(let m=1;m<=9;m++){const v=m*10**d;if(v>=mn&&v<=mx)tk.push(v);}
 const major={id:'major',afterDraw(ch){const c=ch.ctx,s=ch.scales.x;c.save();c.strokeStyle='#000';c.lineWidth=1.2;decades.forEach(d=>{const px=s.getPixelForValue(10**d);c.beginPath();c.moveTo(px,s.top);c.lineTo(px,s.top+9);c.stroke();});c.restore();}};
 mk(x0,y-1,x1,y,{type:'scatter',data:{datasets:[{data:[]}]},plugins:[major],options:{scales:{y:{display:false,min:0,max:1},x:{type:'logarithmic',min:mn,max:mx,afterBuildTicks:fixed(tk),border:{display:true,color:'#000',width:1.5},grid:{drawOnChartArea:false,tickLength:4,color:'#000'},ticks:{autoSkip:false,maxRotation:0,minRotation:0,padding:8,color:'#333',font:{size:9},callback:v=>{if(!lab)return '';const l=Math.log10(v);return Math.abs(l-Math.round(l))<1e-6?'10'+SUP[String(Math.round(l))]:'';}}}}}},{l:10,r:10,t:1,b:28});}
[[559,833,566.7],[837,1116.6,848.5],[1121.6,1401,1135]].forEach(a=>{gAxis(a[0],a[1],a[2],1226.7,false);gAxis(a[0],a[1],a[2],1363,true);});
t(551.4,1265,'Individual cell',{r:-90});t(979,1403,'Diffusion coefficient (µm<sup>2</sup>/s)');
t(1407,1162,'Posterior',{a:'l'});t(1407,1180,'occupation',{a:'l'});
box(1415,1191,1433,1299,'linear-gradient(180deg,#FBE31E 0,#FBE31E 9%,#8ECB44 27%,#2AA078 45%,#1E7F86 63%,#2B5080 80%,#2F1B5D 100%)');
[[1201,'&gt;0.0233'],[1220.7,'0.020'],[1240,'0.015'],[1260,'0.010'],[1280,'0.005'],[1299.5,'0.000']].forEach(a=>t(1437.5,a[0],a[1],{a:'l',s:8}));

/* ---------- H / I ---------- */
function swarm(vals,cat,pxX,pxY,r){const placed=[];return [...vals].sort((a,b)=>b-a).map((v,n)=>{const sign=n%2?1:-1;for(let k=0;k<200;k++){const off=(k%2?1:-1)*sign*Math.ceil(k/2)*.8,py=v*pxY;if(placed.every(p=>(p[0]-off)**2+(p[1]-py)**2>=(2*r*.8)**2)){placed.push([off,py]);return {x:cat+off/pxX,y:v};}}return {x:cat,y:v};});}
function sw(x0,y0,x1,y1,tick0,step,yMax,yt,names,groups,err,brk){const xmin=(x0-tick0)/step,xmax=(x1-tick0)/step,pxY=(y1-y0)/(yMax-.2);
 const d=[];groups.forEach((g,i)=>{const e=err[i],c=.1,w=.16,L=[[i-c,e[1]],[i+c,e[1]],null,[i,e[1]],[i,e[2]],null,[i-c,e[2]],[i+c,e[2]],null,[i-w,e[0]],[i+w,e[0]]].map(p=>p?{x:p[0],y:p[1]}:{x:i,y:null});
  d.push(dashLine(L,'#111',1.2));});
 groups.forEach((g,i)=>d.push({data:swarm(g[0],i,step,pxY,2.8),backgroundColor:g[1],pointRadius:2.8,pointBorderWidth:0,clip:false}));
 brk.forEach(b=>d.unshift(dashLine(path(b),'#222',1.4)));
 const scale=(min,max,ticks,cb,size)=>({type:'linear',min,max,afterBuildTicks:fixed(ticks),border:{color:'#111',width:1.6},grid:{drawOnChartArea:false,tickLength:5,color:'#111',lineWidth:1.6},ticks:{callback:cb,color:'#111',font:{size,weight:'bold'},autoSkip:false,padding:2}});
 const sx=scale(xmin,xmax,names.map((_,i)=>i),v=>names[v],12);sx.ticks.minRotation=45;sx.ticks.maxRotation=45;const sy=scale(.2,yMax,yt,v=>v.toFixed(1),13);
 mk(x0,y0,x1,y1,{type:'scatter',data:{datasets:d},options:{scales:{x:sx,y:sy}}},{l:60,r:6,t:70,b:1800-y1});}
const yH=[.2,.4,.6,.8,1,1.2],yI=[.2,.4,.6,.8,1];
sw(618.3,1554.7,765.3,1706.3,640.7,34,1.2,yH,namesN,[[hNONO,K.NONO],[hDCCD,K.DCCD],[hMUT,K.MUT],[hTFE3,K.TFE3]],hErr.NL,hBrk);
sw(829.3,1552.7,947.3,1704.7,852.7,35.5,1.2,yH,namesS,[[hSFPQ,K.SFPQ],[hSDCCD,'#9CCBEA'],[hTFE3,K.TFE3]],hErr.SL,hBrkS);
sw(1091,1553,1237.7,1705.7,1113.3,33.9,1,yI,namesN,[[iNONO,K.NONO],[iDCCD,K.DCCD],[iMUT,K.MUT],[iTFE3,K.TFE3]],iErr.NL,iBrk);
sw(1310.7,1551.3,1428.3,1704,1334,35.65,1,yI,namesS,[[iSFPQ,K.SFPQ],[iSDCCD,'#9CCBEA'],[iTFE3,K.TFE3]],iErr.SL,iBrkS);
[[670,'NONO::TFE3R',581,760.3,'#E0383E'],[870,'SFPQ::TFE3R',792,948.3,'#2F5DA8'],[1155.7,'NONO::TFE3R',1066,1245.3,'#E0383E'],[1354.3,'SFPQ::TFE3R',1276.7,1433.3,'#2F5DA8']].forEach(a=>{t(a[0],1474,fmt(a[1]));hl(a[2],a[3],1488.3,1,a[4]);});
const yL='Mean diffusion coefficient (µm<sup>2</sup>/s)',yF='Fraction D &lt; 0.15 µm<sup>2</sup>/s';
[[581.7,1630,yL],[793.3,1628,yL],[1054.3,1629,yF],[1274,1632.7,yF]].forEach(a=>t(a[0],a[1],a[2],{r:-90,w:'bold',s:12.5,c:'#111'}));
[[658.3,1566,'****'],[675,1548,'***'],[691.7,1530,'****'],[888.3,1550,'*'],[1130.7,1553,'****'],[1147.3,1527,'****'],[1164.3,1504,'**'],[1352,1552,'*']].forEach(a=>t(a[0],a[1],a[2],{w:'bold',s:19,c:'#111'}));
</script></body></html>
